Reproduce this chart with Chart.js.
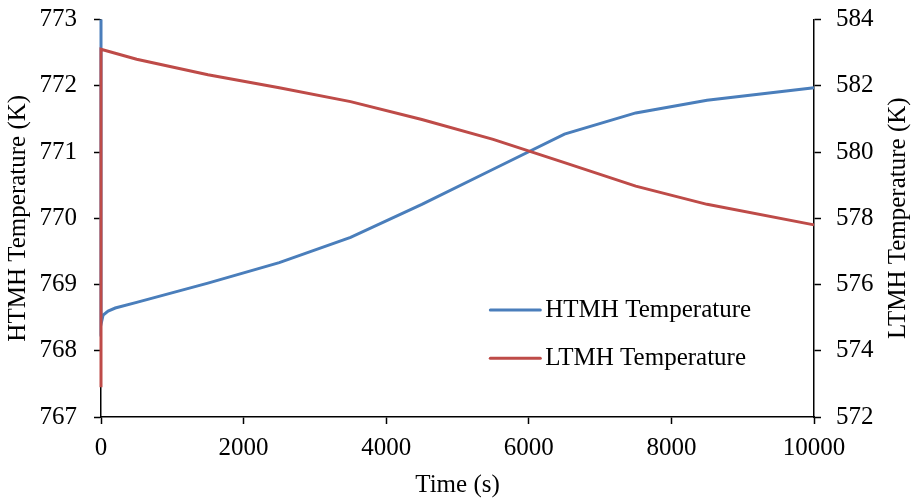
<!DOCTYPE html>
<html>
<head>
<meta charset="utf-8">
<script src="https://cdn.jsdelivr.net/npm/chart.js@4/dist/chart.umd.min.js"></script>
<style>
  html, body { margin: 0; padding: 0; background: #ffffff; }
  #wrap { width: 911px; height: 499px; position: relative; }
</style>
</head>
<body>
<div id="wrap"><canvas id="c"></canvas></div>
<script>
// ---- data ----
const htmhTime = [0, 0, 30, 100, 200, 500, 1500, 2500, 3500, 4500, 5500, 6500, 7500, 8500, 10000];
const htmhTemp = [773, 768.4, 768.54, 768.6, 768.645, 768.73, 769.02, 769.33, 769.71, 770.21, 770.74, 771.27, 771.59, 771.78, 771.97];
const ltmhTime = [0, 0, 500, 1500, 2500, 3500, 4500, 5500, 6500, 7500, 8500, 10000];
const ltmhTemp = [572.9, 583.1, 582.8, 582.33, 581.94, 581.52, 580.98, 580.38, 579.68, 578.97, 578.42, 577.8];
const seriesNames = ['HTMH Temperature', 'LTMH Temperature'];
const xTitle = 'Time (s)';
const yLeftTitle = 'HTMH Temperature (K)';
const yRightTitle = 'LTMH Temperature (K)';

const FONT = 'Liberation Serif, Times New Roman, serif';
const FS = 25;
const BLUE = '#4A7EBB';
const RED = '#BE4B48';

const toPts = (xs, ys) => xs.map((x, i) => ({ x: x, y: ys[i] }));

const legendPlugin = {
  id: 'insideLegend',
  afterDraw(chart) {
    const ctx = chart.ctx;
    const a = chart.chartArea;
    const x0 = a.left + (a.right - a.left) * 0.546;
    const ys = [a.top + (a.bottom - a.top) * 0.731, a.top + (a.bottom - a.top) * 0.852];
    ctx.save();
    chart.data.datasets.forEach((ds, i) => {
      ctx.strokeStyle = ds.borderColor;
      ctx.lineWidth = 3;
      ctx.lineCap = 'round';
      ctx.beginPath();
      ctx.moveTo(x0, ys[i]);
      ctx.lineTo(x0 + 50, ys[i]);
      ctx.stroke();
      ctx.fillStyle = '#000';
      ctx.font = FS + 'px ' + FONT;
      ctx.textBaseline = 'middle';
      ctx.textAlign = 'left';
      ctx.fillText(ds.label, x0 + 55, ys[i]);
    });
    // right axis title, reading bottom-to-top like the reference
    const ys2 = chart.scales.y2;
    ctx.save();
    ctx.translate(ys2.right - 13, (a.top + a.bottom) / 2);
    ctx.rotate(-Math.PI / 2);
    ctx.fillStyle = '#000';
    ctx.font = FS + 'px ' + FONT;
    ctx.textAlign = 'center';
    ctx.textBaseline = 'middle';
    ctx.fillText(yRightTitle, 0, 0);
    ctx.restore();
    ctx.restore();
  }
};

const axisCommon = {
  border: { display: true, color: '#000', width: 1.5 },
  grid: { drawOnChartArea: false, drawTicks: true, tickLength: 7, tickColor: '#000', tickWidth: 1.5 },
};
const plain = v => String(v);
const noPad = s => { s.paddingTop = 0; s.paddingBottom = 0; s.paddingLeft = 0; s.paddingRight = 0; };

new Chart(document.getElementById('c'), {
  type: 'line',
  data: {
    datasets: [
      {
        label: seriesNames[0],
        data: toPts(htmhTime, htmhTemp),
        yAxisID: 'y',
        borderColor: BLUE,
        backgroundColor: BLUE,
        borderWidth: 3,
        pointRadius: 0,
        tension: 0,
        order: 2,
        clip: false
      },
      {
        label: seriesNames[1],
        data: toPts(ltmhTime, ltmhTemp),
        yAxisID: 'y2',
        borderColor: RED,
        backgroundColor: RED,
        borderWidth: 3,
        pointRadius: 0,
        tension: 0,
        order: 1,
        clip: false
      }
    ]
  },
  options: {
    responsive: true,
    maintainAspectRatio: false,
    animation: false,
    layout: { padding: { top: 19.5, left: 0, right: 0, bottom: 0 } },
    plugins: { legend: { display: false }, tooltip: { enabled: false } },
    scales: {
      x: {
        type: 'linear',
        min: 0, max: 10000,
        ...axisCommon,
        ticks: { stepSize: 2000, color: '#000', font: { family: FONT, size: FS }, padding: 9, maxRotation: 0, callback: plain },
        title: { display: true, text: xTitle, color: '#000', font: { family: FONT, size: FS, lineHeight: 1 }, padding: { top: 0, bottom: 1 } },
        afterFit(s) { s.height = 82; noPad(s); }
      },
      y: {
        type: 'linear', position: 'left',
        min: 767, max: 773,
        ...axisCommon,
        ticks: { stepSize: 1, color: '#000', font: { family: FONT, size: FS }, padding: 17, callback: plain },
        title: { display: true, text: yLeftTitle, color: '#000', font: { family: FONT, size: FS, lineHeight: 1 }, padding: { top: 6, bottom: 0 } },
        afterFit(s) { s.width = 101; noPad(s); }
      },
      y2: {
        type: 'linear', position: 'right',
        min: 572, max: 584,
        ...axisCommon,
        ticks: { stepSize: 2, color: '#000', font: { family: FONT, size: FS }, padding: 15, callback: plain },
        title: { display: false, text: yRightTitle },
        afterFit(s) { s.width = 97; noPad(s); }
      }
    }
  },
  plugins: [legendPlugin]
});
</script>
</body>
</html>
